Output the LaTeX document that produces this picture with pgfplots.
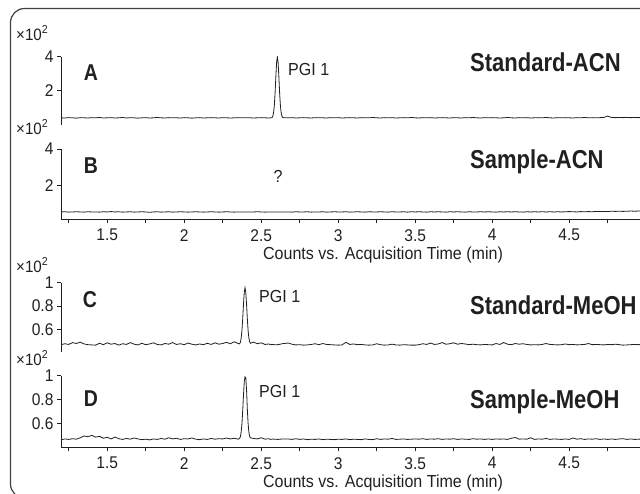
\documentclass[border=0pt]{standalone}
\usepackage{pgfplots}
\usepackage{pgfplotstable}
\pgfplotsset{compat=1.18}
\usepackage{fontspec}
\setmainfont{Liberation Sans}[FakeStretch=0.92]
\newfontfamily\cbold{Liberation Sans}[FakeStretch=0.85]
\definecolor{ink}{HTML}{231F20}

\pgfplotstableread{
x a b c d
1.200 0.42 0.57 0.470 0.463
1.225 0.41 0.58 0.478 0.470
1.250 0.43 0.56 0.472 0.466
1.275 0.42 0.57 0.488 0.472
1.300 0.40 0.58 0.480 0.468
1.325 0.43 0.57 0.492 0.480
1.350 0.42 0.56 0.476 0.495
1.375 0.41 0.58 0.470 0.488
1.400 0.43 0.57 0.468 0.500
1.425 0.42 0.57 0.466 0.485
1.450 0.44 0.56 0.482 0.492
1.475 0.41 0.58 0.470 0.476
1.500 0.42 0.57 0.486 0.484
1.525 0.43 0.59 0.474 0.470
1.550 0.41 0.57 0.480 0.486
1.575 0.42 0.58 0.466 0.472
1.600 0.44 0.56 0.478 0.466
1.625 0.41 0.57 0.472 0.474
1.650 0.43 0.58 0.488 0.468
1.675 0.42 0.56 0.474 0.478
1.700 0.40 0.57 0.468 0.470
1.725 0.42 0.58 0.482 0.464
1.750 0.43 0.57 0.470 0.468
1.775 0.41 0.55 0.476 0.462
1.800 0.42 0.57 0.486 0.470
1.825 0.44 0.58 0.472 0.466
1.850 0.42 0.56 0.468 0.474
1.875 0.41 0.57 0.480 0.468
1.900 0.43 0.58 0.474 0.480
1.925 0.42 0.56 0.488 0.470
1.950 0.42 0.57 0.472 0.476
1.975 0.41 0.58 0.478 0.466
2.000 0.43 0.57 0.470 0.472
2.025 0.42 0.56 0.484 0.470
2.050 0.40 0.57 0.474 0.478
2.075 0.42 0.58 0.468 0.468
2.100 0.43 0.57 0.476 0.464
2.125 0.41 0.56 0.470 0.470
2.150 0.42 0.57 0.482 0.466
2.175 0.43 0.58 0.472 0.474
2.200 0.42 0.57 0.486 0.468
2.225 0.41 0.56 0.474 0.472
2.250 0.43 0.57 0.480 0.470
2.275 0.42 0.58 0.490 0.478
2.300 0.41 0.57 0.478 0.470
2.325 0.42 0.56 0.495 0.476
2.350 0.43 0.57 0.480 0.468
2.360 0.42 0.57 0.477 0.475
2.365 0.42 0.57 0.491 0.490
2.370 0.42 0.57 0.526 0.527
2.375 0.42 0.57 0.591 0.597
2.380 0.42 0.57 0.693 0.707
2.385 0.42 0.57 0.814 0.837
2.390 0.42 0.57 0.917 0.947
2.395 0.42 0.57 0.957 0.990
2.400 0.42 0.57 0.917 0.985
2.405 0.42 0.57 0.814 0.880
2.410 0.42 0.57 0.693 0.720
2.415 0.42 0.57 0.591 0.600
2.420 0.42 0.57 0.526 0.527
2.425 0.42 0.57 0.495 0.492
2.430 0.42 0.57 0.482 0.480
2.450 0.41 0.57 0.492 0.474
2.475 0.42 0.58 0.478 0.470
2.500 0.43 0.57 0.486 0.480
2.525 0.42 0.56 0.472 0.468
2.550 0.41 0.57 0.476 0.472
2.560 0.42 0.57 0.470 0.466
2.565 0.42 0.57 0.470 0.468
2.570 0.43 0.57 0.472 0.468
2.575 0.51 0.57 0.472 0.470
2.580 0.69 0.57 0.471 0.469
2.585 1.10 0.57 0.470 0.468
2.590 1.83 0.57 0.470 0.468
2.595 2.78 0.57 0.470 0.467
2.600 3.65 0.57 0.470 0.467
2.605 4.00 0.57 0.470 0.466
2.610 3.65 0.57 0.471 0.466
2.615 2.78 0.57 0.472 0.467
2.620 1.83 0.57 0.473 0.468
2.625 1.10 0.57 0.474 0.468
2.630 0.69 0.57 0.476 0.469
2.635 0.51 0.57 0.478 0.470
2.640 0.44 0.57 0.479 0.470
2.645 0.43 0.57 0.480 0.470
2.650 0.42 0.57 0.480 0.470
2.675 0.42 0.57 0.484 0.470
2.700 0.43 0.56 0.474 0.466
2.725 0.41 0.58 0.468 0.472
2.750 0.42 0.57 0.470 0.466
2.775 0.43 0.57 0.466 0.470
2.800 0.42 0.58 0.468 0.464
2.825 0.41 0.56 0.472 0.468
2.850 0.43 0.57 0.478 0.466
2.875 0.42 0.57 0.470 0.470
2.900 0.42 0.58 0.480 0.464
2.925 0.41 0.56 0.472 0.468
2.950 0.43 0.57 0.470 0.466
2.975 0.42 0.58 0.468 0.464
3.000 0.43 0.57 0.466 0.468
3.025 0.41 0.57 0.468 0.466
3.050 0.42 0.58 0.490 0.470
3.075 0.43 0.56 0.472 0.464
3.100 0.42 0.57 0.476 0.468
3.125 0.41 0.58 0.470 0.466
3.150 0.43 0.57 0.472 0.464
3.175 0.42 0.56 0.468 0.470
3.200 0.42 0.58 0.466 0.466
3.225 0.44 0.57 0.468 0.464
3.250 0.42 0.57 0.478 0.472
3.275 0.41 0.58 0.470 0.466
3.300 0.43 0.57 0.466 0.470
3.325 0.42 0.56 0.468 0.468
3.350 0.43 0.58 0.474 0.474
3.375 0.41 0.57 0.468 0.466
3.400 0.42 0.57 0.466 0.468
3.425 0.43 0.58 0.470 0.470
3.450 0.42 0.56 0.468 0.466
3.475 0.44 0.58 0.466 0.468
3.500 0.42 0.57 0.466 0.470
3.525 0.41 0.58 0.470 0.468
3.550 0.43 0.57 0.478 0.472
3.575 0.42 0.56 0.472 0.466
3.600 0.43 0.58 0.484 0.470
3.625 0.41 0.57 0.472 0.468
3.650 0.42 0.58 0.476 0.472
3.675 0.43 0.57 0.488 0.466
3.700 0.42 0.56 0.474 0.470
3.725 0.41 0.58 0.478 0.468
3.750 0.43 0.57 0.486 0.472
3.775 0.42 0.58 0.474 0.466
3.800 0.41 0.57 0.480 0.470
3.825 0.43 0.56 0.476 0.468
3.850 0.42 0.58 0.470 0.466
3.875 0.44 0.57 0.474 0.472
3.900 0.42 0.57 0.470 0.468
3.925 0.41 0.58 0.468 0.470
3.950 0.43 0.57 0.472 0.466
3.975 0.42 0.58 0.470 0.470
4.000 0.43 0.57 0.468 0.466
4.025 0.42 0.56 0.480 0.470
4.050 0.41 0.58 0.472 0.468
4.075 0.42 0.57 0.488 0.470
4.100 0.44 0.58 0.474 0.466
4.125 0.42 0.57 0.470 0.476
4.150 0.41 0.58 0.480 0.482
4.175 0.43 0.57 0.474 0.468
4.200 0.42 0.56 0.478 0.470
4.225 0.43 0.58 0.472 0.468
4.250 0.41 0.57 0.468 0.480
4.275 0.42 0.58 0.470 0.466
4.300 0.43 0.57 0.468 0.470
4.325 0.42 0.58 0.472 0.468
4.350 0.44 0.57 0.480 0.474
4.375 0.42 0.58 0.472 0.466
4.400 0.41 0.57 0.470 0.470
4.425 0.43 0.58 0.468 0.468
4.450 0.42 0.57 0.470 0.466
4.475 0.43 0.58 0.476 0.470
4.500 0.42 0.59 0.470 0.466
4.525 0.41 0.58 0.472 0.478
4.550 0.43 0.57 0.468 0.468
4.575 0.42 0.59 0.470 0.472
4.600 0.44 0.58 0.472 0.466
4.625 0.42 0.59 0.480 0.470
4.650 0.43 0.58 0.470 0.468
4.675 0.42 0.60 0.472 0.472
4.700 0.43 0.59 0.470 0.466
4.725 0.44 0.60 0.468 0.470
4.750 0.52 0.59 0.472 0.466
4.775 0.44 0.61 0.470 0.470
4.800 0.43 0.60 0.474 0.466
4.825 0.44 0.61 0.470 0.470
4.850 0.43 0.60 0.466 0.472
4.875 0.44 0.61 0.468 0.466
4.900 0.43 0.62 0.470 0.470
4.925 0.44 0.61 0.472 0.466
4.950 0.43 0.62 0.470 0.468
4.975 0.44 0.61 0.472 0.470
}\chrom

\pgfplotsset{
  chromaxis/.style={
    scale only axis, width=579bp,
    xmin=1.2, xmax=4.96,
    axis y line*=left,
    axis line style={ink, line width=0.7bp},
    tick style={ink, line width=0.7bp},
    tick align=outside,
    major tick length=4bp, minor tick length=4bp,
    xtick={1.5,2,2.5,3,3.5,4,4.5},
    minor xtick={1.25,1.75,2.25,2.75,3.25,3.75,4.25,4.75},
    ticklabel style={font=\fontsize{17}{18}\selectfont, text=ink},
    xticklabel style={yshift=-2.5bp},
    /pgf/number format/assume math mode=true,
    clip=true,
  },
  nox/.style={axis x line=none},
  withx/.style={axis x line*=bottom},
  trace/.style={ink, line width=0.8bp, no marks},
}

\begin{document}
\begin{tikzpicture}[x=1bp,y=1bp]
\useasboundingbox (0,0) rectangle (640,494);
\draw[black!75, line width=1.2bp, rounded corners=14bp] (10.5,-4) rectangle (720,485.5);

% Panel A
\begin{axis}[chromaxis, nox, at={(61bp,369bp)}, anchor=south west,
  height=68.3bp, ymin=0, ymax=4, ytick={2,4}]
\addplot[trace] table[x=x,y=a]{\chrom};
\end{axis}
% Panel B
\begin{axis}[chromaxis, withx, at={(61bp,274.7bp)}, anchor=south west,
  height=70.3bp, ymin=0.17, ymax=4, ytick={2,4}]
\addplot[trace] table[x=x,y=b]{\chrom};
\end{axis}
% Panel C
\begin{axis}[chromaxis, nox, at={(61bp,142.3bp)}, anchor=south west,
  height=69bp, ymin=0.41, ymax=1, ytick={0.6,0.8,1},
  yticklabel style={/pgf/number format/fixed}]
\addplot[trace] table[x=x,y=c]{\chrom};
\end{axis}
% Panel D
\begin{axis}[chromaxis, withx, at={(61bp,46.7bp)}, anchor=south west,
  height=71.6bp, ymin=0.4, ymax=1, ytick={0.6,0.8,1},
  yticklabel style={/pgf/number format/fixed}]
\addplot[trace] table[x=x,y=d]{\chrom};
\end{axis}

% multipliers
\begin{scope}[every node/.style={text=ink, font=\fontsize{16.5}{18}\selectfont, inner sep=0pt}]
\node[anchor=west] at (16,461) {\texttimes10\textsuperscript{2}};
\node[anchor=west] at (16,367) {\texttimes10\textsuperscript{2}};
\node[anchor=west] at (16,229) {\texttimes10\textsuperscript{2}};
\node[anchor=west] at (16,136) {\texttimes10\textsuperscript{2}};
\end{scope}
% panel letters
\begin{scope}[every node/.style={text=ink, font=\cbold\bfseries\fontsize{23}{25}\selectfont, inner sep=0pt}]
\node at (91,421) {A};
\node at (91,328) {B};
\node at (90,194) {C};
\node at (91,95) {D};
\end{scope}
% titles
\begin{scope}[every node/.style={text=ink, font=\cbold\bfseries\fontsize{26}{28}\selectfont, inner sep=0pt, anchor=west}]
\node at (470,432) {Standard-ACN};
\node at (470,332) {Sample-ACN};
\node at (470,189) {Standard-MeOH};
\node at (470,92) {Sample-MeOH};
\end{scope}
% annotations
\begin{scope}[every node/.style={text=ink, font=\fontsize{17.5}{19}\selectfont, inner sep=0pt}]
\node[anchor=west] at (288,424) {PGI 1};
\node at (278,318) {?};
\node[anchor=west] at (259,197) {PGI 1};
\node[anchor=west] at (259,102) {PGI 1};
\node at (383,239) {Counts vs. Acquisition Time (min)};
\node at (383,11) {Counts vs. Acquisition Time (min)};
\end{scope}
\end{tikzpicture}
\end{document}
